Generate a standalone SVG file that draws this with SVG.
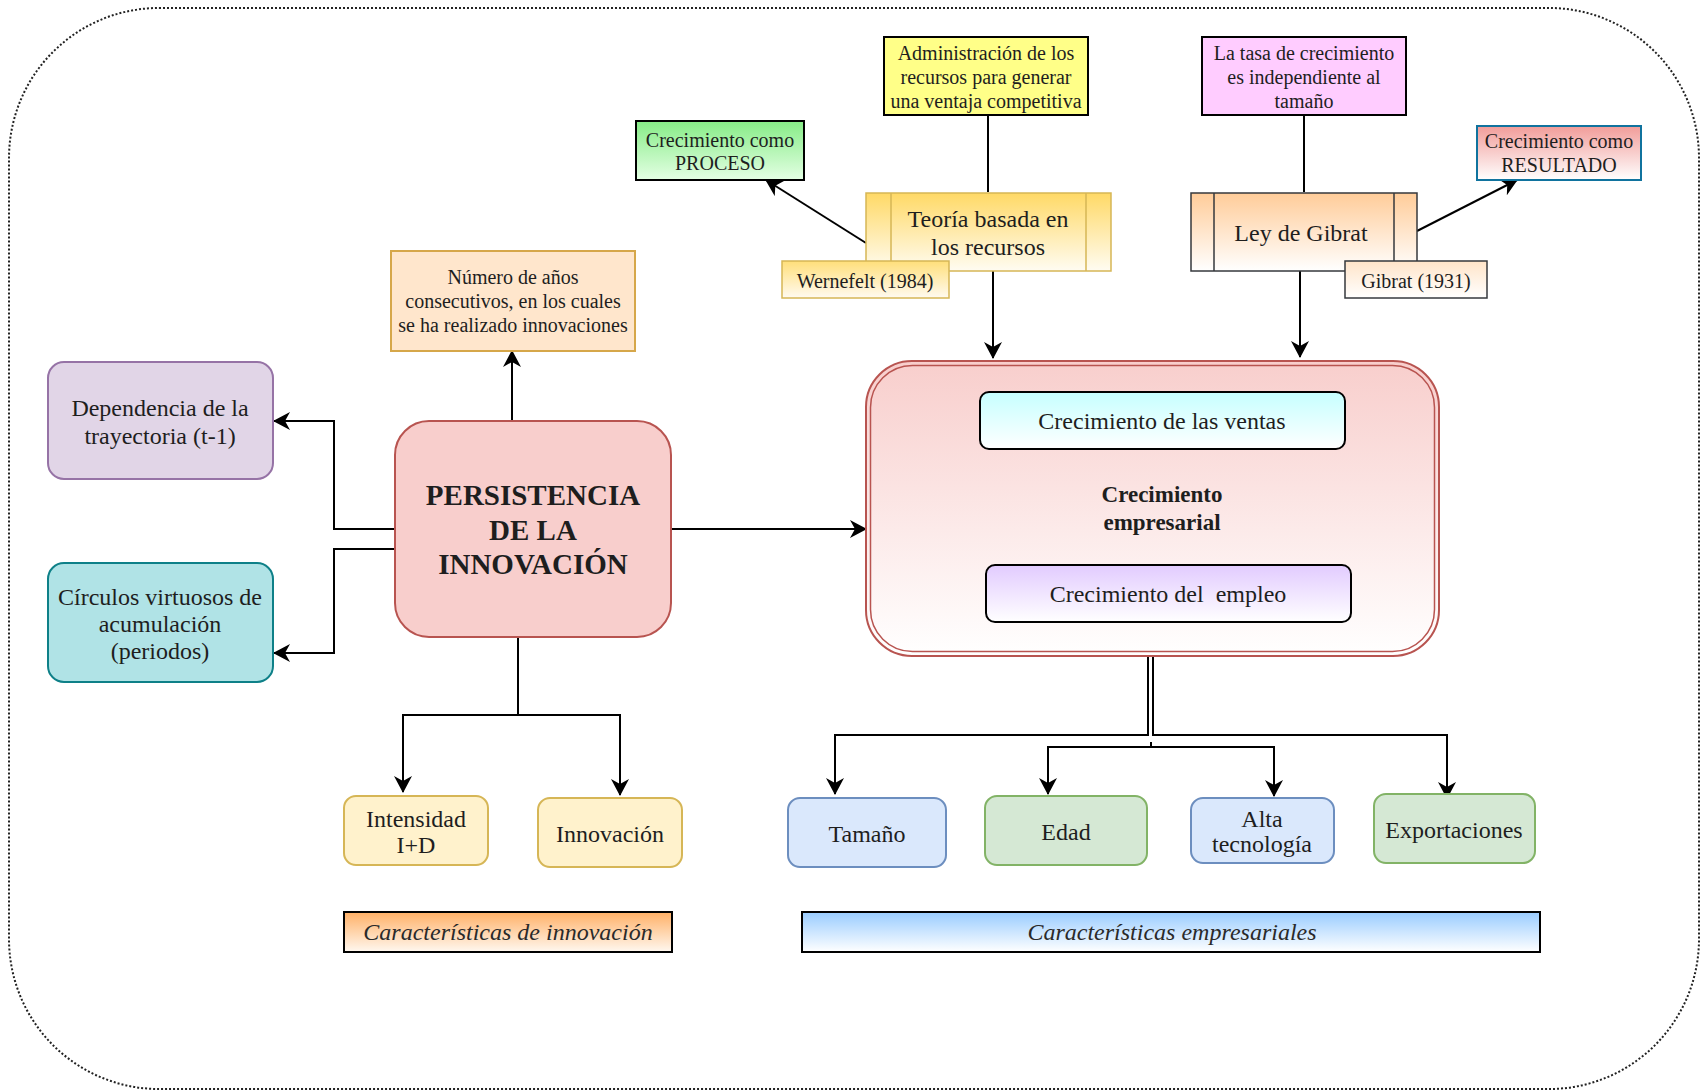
<svg xmlns="http://www.w3.org/2000/svg" width="1702" height="1092" viewBox="0 0 1702 1092">
  <defs>
    <style>
      text { font-family: "Liberation Serif", "Times New Roman", serif; fill: #1e1e1e; text-anchor: middle; }
      .t20 { font-size: 20px; }
      .t24 { font-size: 24px; }
      .bold { font-weight: bold; }
      .ital { font-style: italic; font-size: 24px; fill: #2a2a2a; }
      .edge { fill: none; stroke: #000; stroke-width: 2; }
      .arrow { marker-end: url(#head); }
    </style>
    <marker id="head" viewBox="0 0 17 18" markerWidth="17" markerHeight="18" refX="16" refY="9" orient="auto" markerUnits="userSpaceOnUse">
      <path d="M0,0 L17,9 L0,18 L5,9 Z" fill="#000"/>
    </marker>
    <linearGradient id="gGreen" x1="0" y1="0" x2="0" y2="1"><stop offset="0" stop-color="#86ec86"/><stop offset="1" stop-color="#e4ffe4"/></linearGradient>
    <linearGradient id="gTeoria" x1="0" y1="0" x2="0" y2="1"><stop offset="0" stop-color="#ffd966"/><stop offset="1" stop-color="#fffcf2"/></linearGradient>
    <linearGradient id="gWern" x1="0" y1="0" x2="0" y2="1"><stop offset="0" stop-color="#ffdf7a"/><stop offset="1" stop-color="#fffaf0"/></linearGradient>
    <linearGradient id="gLey" x1="0" y1="0" x2="0" y2="1"><stop offset="0" stop-color="#ffcc99"/><stop offset="1" stop-color="#ffffff"/></linearGradient>
    <linearGradient id="gGib" x1="0" y1="0" x2="0" y2="1"><stop offset="0" stop-color="#ffe4c8"/><stop offset="1" stop-color="#ffffff"/></linearGradient>
    <linearGradient id="gRes" x1="0" y1="0" x2="0" y2="1"><stop offset="0" stop-color="#f19c99"/><stop offset="1" stop-color="#ffffff"/></linearGradient>
    <linearGradient id="gCont" x1="0" y1="0" x2="0" y2="1"><stop offset="0" stop-color="#f8cecc"/><stop offset="1" stop-color="#ffffff"/></linearGradient>
    <linearGradient id="gVentas" x1="0" y1="0" x2="0" y2="1"><stop offset="0" stop-color="#c6ffff"/><stop offset="1" stop-color="#ffffff"/></linearGradient>
    <linearGradient id="gEmpleo" x1="0" y1="0" x2="0" y2="1"><stop offset="0" stop-color="#e2cbff"/><stop offset="1" stop-color="#ffffff"/></linearGradient>
    <linearGradient id="gCarInn" x1="0" y1="0" x2="0" y2="1"><stop offset="0" stop-color="#ffb066"/><stop offset="1" stop-color="#fff8f0"/></linearGradient>
    <linearGradient id="gCarEmp" x1="0" y1="0" x2="0" y2="1"><stop offset="0" stop-color="#99ccff"/><stop offset="1" stop-color="#ffffff"/></linearGradient>
  </defs>

  <rect width="1702" height="1092" fill="#ffffff"/>

  <!-- dotted frame around the whole map -->
  <rect id="frame" x="9" y="8" width="1690" height="1081" rx="150" ry="150" fill="none" stroke="#222" stroke-width="2" stroke-dasharray="2 2"/>

  <!-- connectors -->
  <g id="connectors">
    <path class="edge" d="M988,115 V192"/>
    <path class="edge arrow" d="M993,270 V358"/>
    <path class="edge arrow" d="M866,243 L766,180"/>
    <path class="edge" d="M1304,115 V192"/>
    <path class="edge arrow" d="M1300,270 V357"/>
    <path class="edge arrow" d="M1417,231 L1517,180"/>
    <path class="edge arrow" d="M512,420 V351"/>
    <path class="edge arrow" d="M395,529 H334 V421 H274"/>
    <path class="edge arrow" d="M395,549 H334 V653 H274"/>
    <path class="edge arrow" d="M671,529 H866"/>
    <path class="edge arrow" d="M518,637 V715 H403 V792"/>
    <path class="edge arrow" d="M518,715 H620 V795"/>
    <path class="edge arrow" d="M1148,657 V735 H835 V794"/>
    <path class="edge arrow" d="M1153,657 V735 H1447 V798"/>
    <path class="edge" d="M1151,742 V747"/>
    <path class="edge arrow" d="M1151,747 H1048 V794"/>
    <path class="edge arrow" d="M1151,747 H1274 V796"/>
  </g>

  <!-- resource-based theory branch -->
  <g id="admin">
    <rect x="884" y="37" width="204" height="78" fill="#ffff88" stroke="#000" stroke-width="2"/>
    <text class="t20" x="986" y="60">Administración de los</text>
    <text class="t20" x="986" y="84">recursos para generar</text>
    <text class="t20" x="986" y="108">una ventaja competitiva</text>
  </g>
  <g id="proceso">
    <rect x="636" y="121" width="168" height="59" fill="url(#gGreen)" stroke="#000" stroke-width="2"/>
    <text class="t20" x="720" y="147">Crecimiento como</text>
    <text class="t20" x="720" y="170">PROCESO</text>
  </g>
  <g id="teoria">
    <rect x="866" y="193" width="245" height="78" fill="url(#gTeoria)" stroke="#d6b656" stroke-width="1.5"/>
    <path d="M891,193 V271 M1086,193 V271" stroke="#d6b656" stroke-width="1.5"/>
    <text class="t24" x="988" y="227">Teoría basada en</text>
    <text class="t24" x="988" y="255">los recursos</text>
  </g>
  <g id="wernefelt">
    <rect x="782" y="261" width="167" height="37" fill="url(#gWern)" stroke="#d6b656" stroke-width="1.5"/>
    <text class="t20" x="865" y="288">Wernefelt (1984)</text>
  </g>

  <!-- Gibrat branch -->
  <g id="tasa">
    <rect x="1202" y="37" width="204" height="78" fill="#ffccff" stroke="#000" stroke-width="2"/>
    <text class="t20" x="1304" y="60">La tasa de crecimiento</text>
    <text class="t20" x="1304" y="84">es independiente al</text>
    <text class="t20" x="1304" y="108">tamaño</text>
  </g>
  <g id="ley">
    <rect x="1191" y="193" width="226" height="78" fill="url(#gLey)" stroke="#36393d" stroke-width="1.5"/>
    <path d="M1214,193 V271 M1394,193 V271" stroke="#36393d" stroke-width="1.5"/>
    <text class="t24" x="1301" y="241">Ley de Gibrat</text>
  </g>
  <g id="gibrat1931">
    <rect x="1345" y="261" width="142" height="37" fill="url(#gGib)" stroke="#36393d" stroke-width="1.5"/>
    <text class="t20" x="1416" y="288">Gibrat (1931)</text>
  </g>
  <g id="resultado">
    <rect x="1477" y="126" width="164" height="54" fill="url(#gRes)" stroke="#10739e" stroke-width="2"/>
    <text class="t20" x="1559" y="148">Crecimiento como</text>
    <text class="t20" x="1559" y="172">RESULTADO</text>
  </g>

  <!-- innovation persistence side -->
  <g id="numero">
    <rect x="391" y="251" width="244" height="100" fill="#ffe6cc" stroke="#d6a74a" stroke-width="2"/>
    <text class="t20" x="513" y="284">Número de años</text>
    <text class="t20" x="513" y="308">consecutivos, en los cuales</text>
    <text class="t20" x="513" y="332">se ha realizado innovaciones</text>
  </g>
  <g id="dependencia">
    <rect x="48" y="362" width="225" height="117" rx="16" fill="#e1d5e7" stroke="#9673a6" stroke-width="2"/>
    <text class="t24" x="160" y="416">Dependencia de la</text>
    <text class="t24" x="160" y="444">trayectoria (t-1)</text>
  </g>
  <g id="circulos">
    <rect x="48" y="563" width="225" height="119" rx="16" fill="#b0e3e6" stroke="#0e8088" stroke-width="2"/>
    <text class="t24" x="160" y="605">Círculos virtuosos de</text>
    <text class="t24" x="160" y="632">acumulación</text>
    <text class="t24" x="160" y="659">(periodos)</text>
  </g>
  <g id="persistencia">
    <rect x="395" y="421" width="276" height="216" rx="34" fill="#f8cecc" stroke="#b85450" stroke-width="2"/>
    <text class="bold" font-size="29" x="533" y="505">PERSISTENCIA</text>
    <text class="bold" font-size="29" x="533" y="540">DE LA</text>
    <text class="bold" font-size="29" x="533" y="574">INNOVACIÓN</text>
  </g>
  <g id="intensidad">
    <rect x="344" y="796" width="144" height="69" rx="12" fill="#fff2cc" stroke="#d6b656" stroke-width="2"/>
    <text class="t24" x="416" y="827">Intensidad</text>
    <text class="t24" x="416" y="853">I+D</text>
  </g>
  <g id="innovacion">
    <rect x="538" y="798" width="144" height="69" rx="12" fill="#fff2cc" stroke="#d6b656" stroke-width="2"/>
    <text class="t24" x="610" y="842">Innovación</text>
  </g>
  <g id="car-innovacion">
    <rect x="344" y="912" width="328" height="40" fill="url(#gCarInn)" stroke="#000" stroke-width="2"/>
    <text class="ital" x="508" y="940">Características de innovación</text>
  </g>

  <!-- business growth side -->
  <g id="crecimiento">
    <rect x="866" y="361" width="573" height="295" rx="46" fill="url(#gCont)" stroke="#b85450" stroke-width="2"/>
    <rect x="870.5" y="365.5" width="564" height="286" rx="42" fill="none" stroke="#b85450" stroke-width="1.5"/>
    <text class="bold" font-size="23" x="1162" y="502">Crecimiento</text>
    <text class="bold" font-size="23" x="1162" y="530">empresarial</text>
  </g>
  <g id="ventas">
    <rect x="980" y="392" width="365" height="57" rx="9" fill="url(#gVentas)" stroke="#000" stroke-width="2"/>
    <text class="t24" x="1162" y="429">Crecimiento de las ventas</text>
  </g>
  <g id="empleo">
    <rect x="986" y="565" width="365" height="57" rx="9" fill="url(#gEmpleo)" stroke="#000" stroke-width="2"/>
    <text class="t24" x="1168" y="602" xml:space="preserve">Crecimiento del  empleo</text>
  </g>
  <g id="tamano">
    <rect x="788" y="798" width="158" height="69" rx="12" fill="#dae8fc" stroke="#6c8ebf" stroke-width="2"/>
    <text class="t24" x="867" y="842">Tamaño</text>
  </g>
  <g id="edad">
    <rect x="985" y="796" width="162" height="69" rx="12" fill="#d5e8d4" stroke="#82b366" stroke-width="2"/>
    <text class="t24" x="1066" y="840">Edad</text>
  </g>
  <g id="alta">
    <rect x="1191" y="798" width="143" height="65" rx="12" fill="#dae8fc" stroke="#6c8ebf" stroke-width="2"/>
    <text class="t24" x="1262" y="827">Alta</text>
    <text class="t24" x="1262" y="852">tecnología</text>
  </g>
  <g id="exportaciones">
    <rect x="1374" y="794" width="161" height="69" rx="12" fill="#d5e8d4" stroke="#82b366" stroke-width="2"/>
    <text class="t24" x="1454" y="838">Exportaciones</text>
  </g>
  <g id="car-empresariales">
    <rect x="802" y="912" width="738" height="40" fill="url(#gCarEmp)" stroke="#000" stroke-width="2"/>
    <text class="ital" x="1172" y="940">Características empresariales</text>
  </g>
</svg>
